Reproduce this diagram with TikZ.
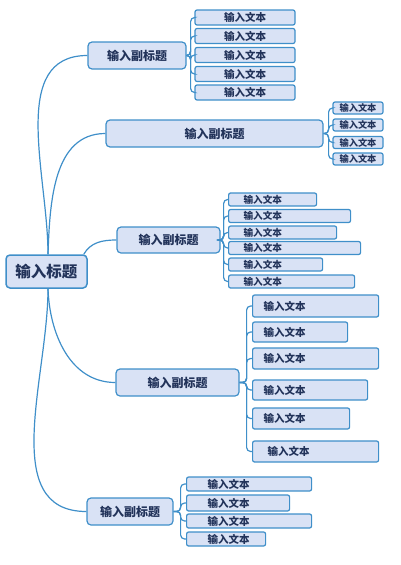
\documentclass[tikz,border=0pt]{standalone}
\usepackage{fontspec}
\usetikzlibrary{calc}
\setmainfont{Noto Sans CJK SC}
\definecolor{relleno}{HTML}{D9E2F5}
\definecolor{borde}{HTML}{3F8FC9}
\definecolor{letra}{HTML}{22335A}
\begin{document}
\begin{tikzpicture}[
    x=1pt, y=-1pt,
    caja/.style={draw=borde, fill=relleno, text=letra, line width=1.2pt, inner sep=0pt, font=\bfseries},
    titulo/.style={caja, rounded corners=4pt, line width=1.5pt, minimum width=81pt, minimum height=33pt, font=\bfseries\fontsize{15.5pt}{16pt}\selectfont},
    subtitulo/.style={caja, rounded corners=4pt, minimum height=27pt, font=\bfseries\fontsize{12pt}{13pt}\selectfont},
    texto/.style={caja, rounded corners=2pt, minimum height=15pt, font=\bfseries\fontsize{10.5pt}{11pt}\selectfont},
    textoizq/.style={texto, anchor=west, align=left},
    rama/.style={draw=borde, line width=1.2pt},
    hijo/.style={rama, rounded corners=4pt}
]
\useasboundingbox (0,0) rectangle (400,565);
% Titulo
\node[titulo] (titulo) at (46.5,271.5) {输入标题};
% Subtitulos
\node[subtitulo, minimum width=98pt] (sub1) at (137,55.5) {输入副标题};
\node[subtitulo, minimum width=217pt] (sub2) at (214.5,133.5) {输入副标题};
\node[subtitulo, minimum width=103pt, minimum height=26pt] (sub3) at (168.5,240) {输入副标题};
\node[subtitulo, minimum width=123pt] (sub4) at (177.5,382.5) {输入副标题};
\node[subtitulo, minimum width=86pt] (sub5) at (130,511.5) {输入副标题};
% Textos del subtitulo 1
\node[texto, minimum width=100pt] (t1a) at (245,17.5) {输入文本};
\node[texto, minimum width=100pt] (t1b) at (245,36) {输入文本};
\node[texto, minimum width=100pt] (t1c) at (245,55) {输入文本};
\node[texto, minimum width=100pt] (t1d) at (245,74) {输入文本};
\node[texto, minimum width=100pt] (t1e) at (245,92.5) {输入文本};
% Textos del subtitulo 2
\node[texto, minimum width=50pt, minimum height=12pt, font=\bfseries\fontsize{9.2pt}{10pt}\selectfont] (t2a) at (358,108) {输入文本};
\node[texto, minimum width=50pt, minimum height=12pt, font=\bfseries\fontsize{9.2pt}{10pt}\selectfont] (t2b) at (358,125) {输入文本};
\node[texto, minimum width=50pt, minimum height=12pt, font=\bfseries\fontsize{9.2pt}{10pt}\selectfont] (t2c) at (358,142.5) {输入文本};
\node[texto, minimum width=50pt, minimum height=12pt, font=\bfseries\fontsize{9.2pt}{10pt}\selectfont] (t2d) at (358,159) {输入文本};
% Textos del subtitulo 3
\node[textoizq, minimum height=13pt, inner xsep=15pt, text width=58pt, font=\bfseries\fontsize{9.6pt}{10pt}\selectfont] (t3a) at (228,199.5) {输入文本};
\node[textoizq, minimum height=13pt, inner xsep=15pt, text width=92pt, font=\bfseries\fontsize{9.6pt}{10pt}\selectfont] (t3b) at (228,216) {输入文本};
\node[textoizq, minimum height=13pt, inner xsep=15pt, text width=78pt, font=\bfseries\fontsize{9.6pt}{10pt}\selectfont] (t3c) at (228,232.5) {输入文本};
\node[textoizq, minimum height=13pt, inner xsep=15pt, text width=102pt, font=\bfseries\fontsize{9.6pt}{10pt}\selectfont] (t3d) at (228,248) {输入文本};
\node[textoizq, minimum height=13pt, inner xsep=15pt, text width=64pt, font=\bfseries\fontsize{9.6pt}{10pt}\selectfont] (t3e) at (228,264.5) {输入文本};
\node[textoizq, minimum height=13pt, inner xsep=15pt, text width=96pt, font=\bfseries\fontsize{9.6pt}{10pt}\selectfont] (t3f) at (228,281.5) {输入文本};
% Textos del subtitulo 4
\node[textoizq, minimum height=22pt, inner xsep=11pt, text width=104pt] (t4a) at (252,306) {输入文本};
\node[textoizq, minimum height=20pt, inner xsep=11pt, text width=73pt] (t4b) at (252,332) {输入文本};
\node[textoizq, minimum height=21pt, inner xsep=11pt, text width=104pt] (t4c) at (252,358.5) {输入文本};
\node[textoizq, minimum height=20pt, inner xsep=11pt, text width=93pt] (t4d) at (252,390) {输入文本};
\node[textoizq, minimum height=21pt, inner xsep=11pt, text width=75pt] (t4e) at (252,418.5) {输入文本};
\node[textoizq, minimum height=21pt, inner xsep=15pt, text width=96pt] (t4f) at (252,451.5) {输入文本};
% Textos del subtitulo 5
\node[textoizq, minimum height=14pt, inner xsep=21pt, text width=83pt] (t5a) at (186,484) {输入文本};
\node[textoizq, minimum height=16pt, inner xsep=21pt, text width=61pt] (t5b) at (186,503) {输入文本};
\node[textoizq, minimum height=14pt, inner xsep=21pt, text width=83pt] (t5c) at (186,521) {输入文本};
\node[textoizq, minimum height=14pt, inner xsep=21pt, text width=37pt] (t5d) at (186,539) {输入文本};
% Aristas del titulo
\draw[rama] ($(titulo.north)+(1.5,0)$) to[out=90, in=180] (sub1.west);
\draw[rama] ($(titulo.north)+(1.5,0)$) to[out=88, in=180] (sub2.west);
\draw[rama] ($(titulo.north east)+(-4,0)$) to[out=60, in=180] (sub3.west);
\draw[rama] ($(titulo.south)+(1.5,0)$) to[out=-88, in=180] (sub4.west);
\draw[rama] ($(titulo.south)+(1.5,0)$) to[out=-90, in=180] (sub5.west);
% Aristas de los subtitulos
\draw[hijo] (sub1.east) -- ++(4,0) |- (t1a.west);
\draw[hijo] (sub1.east) -- ++(4,0) |- (t1b.west);
\draw[hijo] (sub1.east) -- ++(4,0) |- (t1c.west);
\draw[hijo] (sub1.east) -- ++(4,0) |- (t1d.west);
\draw[hijo] (sub1.east) -- ++(4,0) |- (t1e.west);
\draw[hijo] (sub2.east) -- ++(5,0) |- (t2a.west);
\draw[hijo] (sub2.east) -- ++(5,0) |- (t2b.west);
\draw[hijo] (sub2.east) -- ++(5,0) |- (t2c.west);
\draw[hijo] (sub2.east) -- ++(5,0) |- (t2d.west);
\draw[hijo] (sub3.east) -- ++(3,0) |- (t3a.west);
\draw[hijo] (sub3.east) -- ++(3,0) |- (t3b.west);
\draw[hijo] (sub3.east) -- ++(3,0) |- (t3c.west);
\draw[hijo] (sub3.east) -- ++(3,0) |- (t3d.west);
\draw[hijo] (sub3.east) -- ++(3,0) |- (t3e.west);
\draw[hijo] (sub3.east) -- ++(3,0) |- (t3f.west);
\draw[hijo] (sub4.east) -- ++(7,0) |- (t4a.west);
\draw[hijo] (sub4.east) -- ++(7,0) |- (t4b.west);
\draw[hijo] (sub4.east) -- ++(7,0) |- (t4c.west);
\draw[hijo] (sub4.east) -- ++(7,0) |- (t4d.west);
\draw[hijo] (sub4.east) -- ++(7,0) |- (t4e.west);
\draw[hijo] (sub4.east) -- ++(7,0) |- (t4f.west);
\draw[hijo] (sub5.east) -- ++(7,0) |- (t5a.west);
\draw[hijo] (sub5.east) -- ++(7,0) |- (t5b.west);
\draw[hijo] (sub5.east) -- ++(7,0) |- (t5c.west);
\draw[hijo] (sub5.east) -- ++(7,0) |- (t5d.west);
\end{tikzpicture}
\end{document}
